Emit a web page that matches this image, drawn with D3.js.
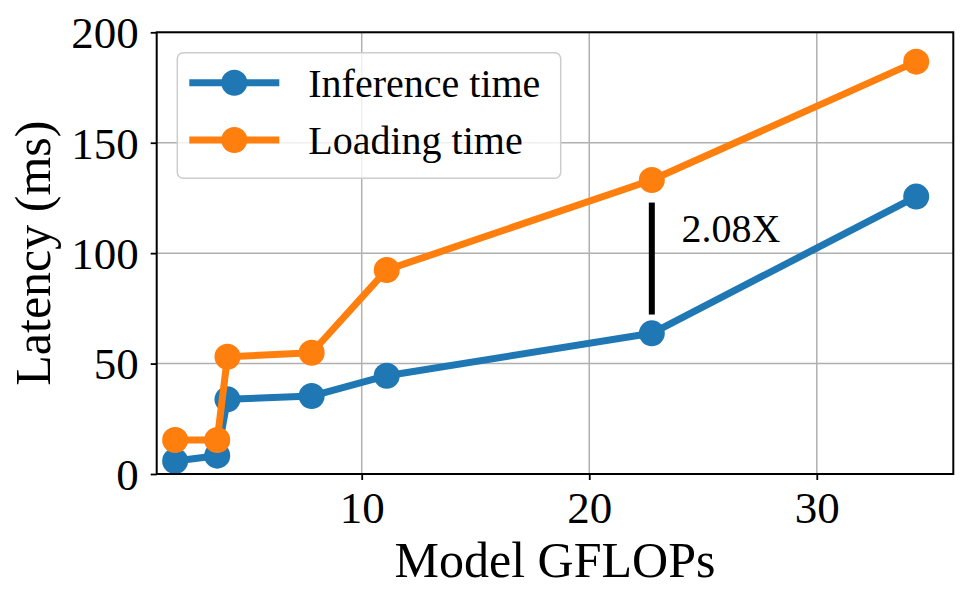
<!DOCTYPE html>
<html>
<head>
<meta charset="utf-8">
<script src="https://cdn.jsdelivr.net/npm/d3@7"></script>
<style>
  body { margin: 0; background: #fff; }
  svg { display: block; font-family: "Liberation Serif", "Times New Roman", serif; }
</style>
</head>
<body>
<div id="chart"><svg width="968" height="603"></svg></div>
<script>
// model compute (GFLOPs) vs latency
const gflops = [1.8, 3.65, 4.1, 7.8, 11.1, 22.75, 34.37];
const inferenceTime = [5.9, 8.3, 33.8, 35.3, 44.5, 63.7, 125.6];
const loadingTime = [15.4, 15.4, 53.1, 54.9, 92.4, 133.1, 186.7];
const xTicks = [10, 20, 30];
const yTicks = [0, 50, 100, 150, 200];
const seriesNames = ["Inference time", "Loading time"];
const seriesColors = ["#1f77b4", "#ff7f0e"];
// speedup marker between the two curves
const gapX = 22.75, gapFrom = 72.2, gapTo = 122.9;
const gapLabel = "2.08X", gapLabelX = 24.05, gapLabelY = 105;

const svg = d3.select("#chart").select("svg");
const plot = { left: 156.7, right: 953.3, top: 32.3, bottom: 474 };

const x = d3.scaleLinear().domain([0.99, 36.0]).range([plot.left, plot.right]);
const y = d3.scaleLinear().domain([0, 200]).range([plot.bottom, plot.top]);

// grid
const grid = svg.append("g").attr("stroke", "#b0b0b0").attr("stroke-width", 1.5);
grid.selectAll(".gx").data(xTicks).join("line")
    .attr("x1", d => x(d)).attr("x2", d => x(d))
    .attr("y1", plot.top).attr("y2", plot.bottom);
grid.selectAll(".gy").data(yTicks).join("line")
    .attr("x1", plot.left).attr("x2", plot.right)
    .attr("y1", d => y(d)).attr("y2", d => y(d));

// axes
const xAxis = svg.append("g")
    .attr("transform", `translate(0,${plot.bottom})`)
    .call(d3.axisBottom(x).tickValues(xTicks).tickSize(6).tickPadding(10).tickFormat(d3.format("d")));
const yAxis = svg.append("g")
    .attr("transform", `translate(${plot.left},0)`)
    .call(d3.axisLeft(y).tickValues(yTicks).tickSize(6).tickPadding(12).tickFormat(d3.format("d")));

[xAxis, yAxis].forEach(g => {
    g.select(".domain").remove();
    g.selectAll(".tick line").attr("stroke", "#000").attr("stroke-width", 1.8);
    g.selectAll(".tick text")
        .attr("fill", "#000")
        .attr("font-size", "45px")
        .attr("font-family", "Liberation Serif, Times New Roman, serif");
});
xAxis.selectAll(".tick text").attr("dy", null).attr("y", 48.7);
yAxis.selectAll(".tick text").attr("dy", "0.34em");

// series
const line = d3.line().x(d => x(d[0])).y(d => y(d[1]));
[inferenceTime, loadingTime].forEach((vals, i) => {
    const pts = gflops.map((g, j) => [g, vals[j]]);
    const g = svg.append("g");
    g.append("path")
        .datum(pts)
        .attr("d", line)
        .attr("fill", "none")
        .attr("stroke", seriesColors[i])
        .attr("stroke-width", 7)
        .attr("stroke-linejoin", "round");
    g.selectAll("circle").data(pts).join("circle")
        .attr("cx", d => x(d[0]))
        .attr("cy", d => y(d[1]))
        .attr("r", 13)
        .attr("fill", seriesColors[i]);
});

// gap annotation
svg.append("line")
    .attr("x1", x(gapX)).attr("x2", x(gapX))
    .attr("y1", y(gapFrom)).attr("y2", y(gapTo))
    .attr("stroke", "#000")
    .attr("stroke-width", 6);
svg.append("text")
    .attr("x", x(gapLabelX))
    .attr("y", y(gapLabelY))
    .attr("font-size", "40px")
    .attr("fill", "#000")
    .text(gapLabel);

// spines
svg.append("rect")
    .attr("x", plot.left).attr("y", plot.top)
    .attr("width", plot.right - plot.left).attr("height", plot.bottom - plot.top)
    .attr("fill", "none")
    .attr("stroke", "#000")
    .attr("stroke-width", 2);

// legend
const legend = svg.append("g");
legend.append("rect")
    .attr("x", 177.3).attr("y", 52.7)
    .attr("width", 383.4).attr("height", 125.6)
    .attr("rx", 6)
    .attr("fill", "#fff").attr("fill-opacity", 0.8)
    .attr("stroke", "#cccccc").attr("stroke-width", 1.5);
seriesNames.forEach((name, i) => {
    const ly = 82.7 + i * 57.3;
    legend.append("line")
        .attr("x1", 189.3).attr("x2", 279.3)
        .attr("y1", ly).attr("y2", ly)
        .attr("stroke", seriesColors[i])
        .attr("stroke-width", 7);
    legend.append("circle")
        .attr("cx", 234.3).attr("cy", ly).attr("r", 13)
        .attr("fill", seriesColors[i]);
    legend.append("text")
        .attr("x", 308.3).attr("y", ly + 14)
        .attr("font-size", "40px")
        .attr("fill", "#000")
        .text(name);
});

// axis labels
svg.append("text")
    .attr("x", (plot.left + plot.right) / 2)
    .attr("y", 577.3)
    .attr("text-anchor", "middle")
    .attr("font-size", "50px")
    .attr("fill", "#000")
    .text("Model GFLOPs");
svg.append("text")
    .attr("transform", `translate(50,${(plot.top + plot.bottom) / 2}) rotate(-90)`)
    .attr("text-anchor", "middle")
    .attr("font-size", "50px")
    .attr("fill", "#000")
    .text("Latency (ms)");
</script>
</body>
</html>
